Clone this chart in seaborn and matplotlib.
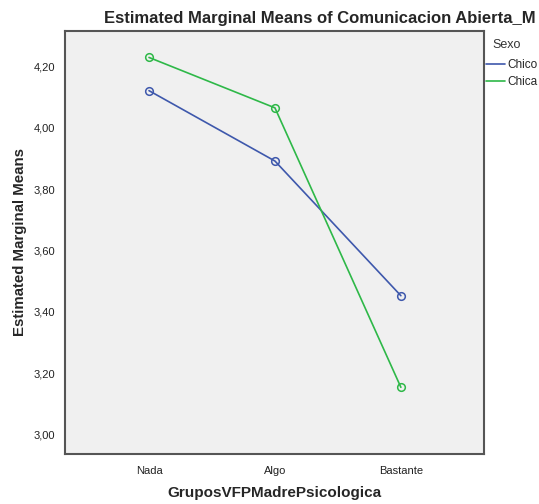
import matplotlib
matplotlib.use("Agg")
import matplotlib.pyplot as plt
import seaborn as sns
import pandas as pd
from matplotlib.lines import Line2D

categories = ["Nada", "Algo", "Bastante"]
chico = [4.120, 3.891, 3.453]
chica = [4.228, 4.064, 3.155]
groups = ["Chico", "Chica"]
yticks = [3.0, 3.2, 3.4, 3.6, 3.8, 4.0, 4.2]

df = pd.DataFrame({
    "GruposVFPMadrePsicologica": categories * 2,
    "mean": chico + chica,
    "Sexo": [groups[0]] * 3 + [groups[1]] * 3,
})

colors = {"Chico": "#3E58AC", "Chica": "#2EB848"}

sns.set_style("white")
plt.rcParams["font.family"] = ["Liberation Sans", "DejaVu Sans"]

fig = plt.figure(figsize=(5.39, 5.04), dpi=100)
ax = fig.add_axes([65/539, 50/504, (484-65)/539, (454-31)/504])
ax.set_facecolor("#F0F0F0")

sns.lineplot(data=df, x="GruposVFPMadrePsicologica", y="mean", hue="Sexo",
             palette=colors, marker="o", markersize=5.5, linewidth=1.2,
             markerfacecolor="none", markeredgewidth=1.1, sort=False,
             legend=False, ax=ax)
for ln in ax.lines:
    ln.set_markerfacecolor("none")
    ln.set_markeredgecolor(ln.get_color())

ax.set_xlim(-0.667, 2.66)
ax.set_ylim(2.938, 4.314)
ax.set_yticks(yticks)
ax.set_yticklabels([f"{v:.2f}".replace(".", ",") for v in yticks])
ax.set_xticks(range(len(categories)))
ax.set_xticklabels(categories)
ax.tick_params(axis="both", direction="out", length=5, width=1.2,
               color="#555555", labelsize=8, labelcolor="#222222", pad=2)
ax.tick_params(axis="x", pad=4)
for s in ax.spines.values():
    s.set_color("#555555")
    s.set_linewidth(1.5)

ax.set_xlabel("GruposVFPMadrePsicologica", fontsize=11, fontweight="bold", labelpad=7)
ax.set_ylabel("Estimated Marginal Means", fontsize=10.8, fontweight="bold", labelpad=5)

fig.text(320/539, 1 - 19/504, "Estimated Marginal Means of Comunicacion Abierta_M",
         ha="center", va="center", fontsize=12, fontweight="bold")

fig.text(492/539, 1 - 45/504, "Sexo", ha="left", va="center",
         fontsize=9, color="#333333")
handles = [Line2D([0], [0], color=colors[g], lw=1.2) for g in groups]
leg = fig.legend(handles, groups, loc="upper left",
                 bbox_to_anchor=(486/539, 1 - 59/504), frameon=False,
                 fontsize=8.5, handlelength=1.6,
                 handletextpad=0.2, labelspacing=0.45, borderaxespad=0,
                 borderpad=0)

fig.savefig("out.png", dpi=100)
